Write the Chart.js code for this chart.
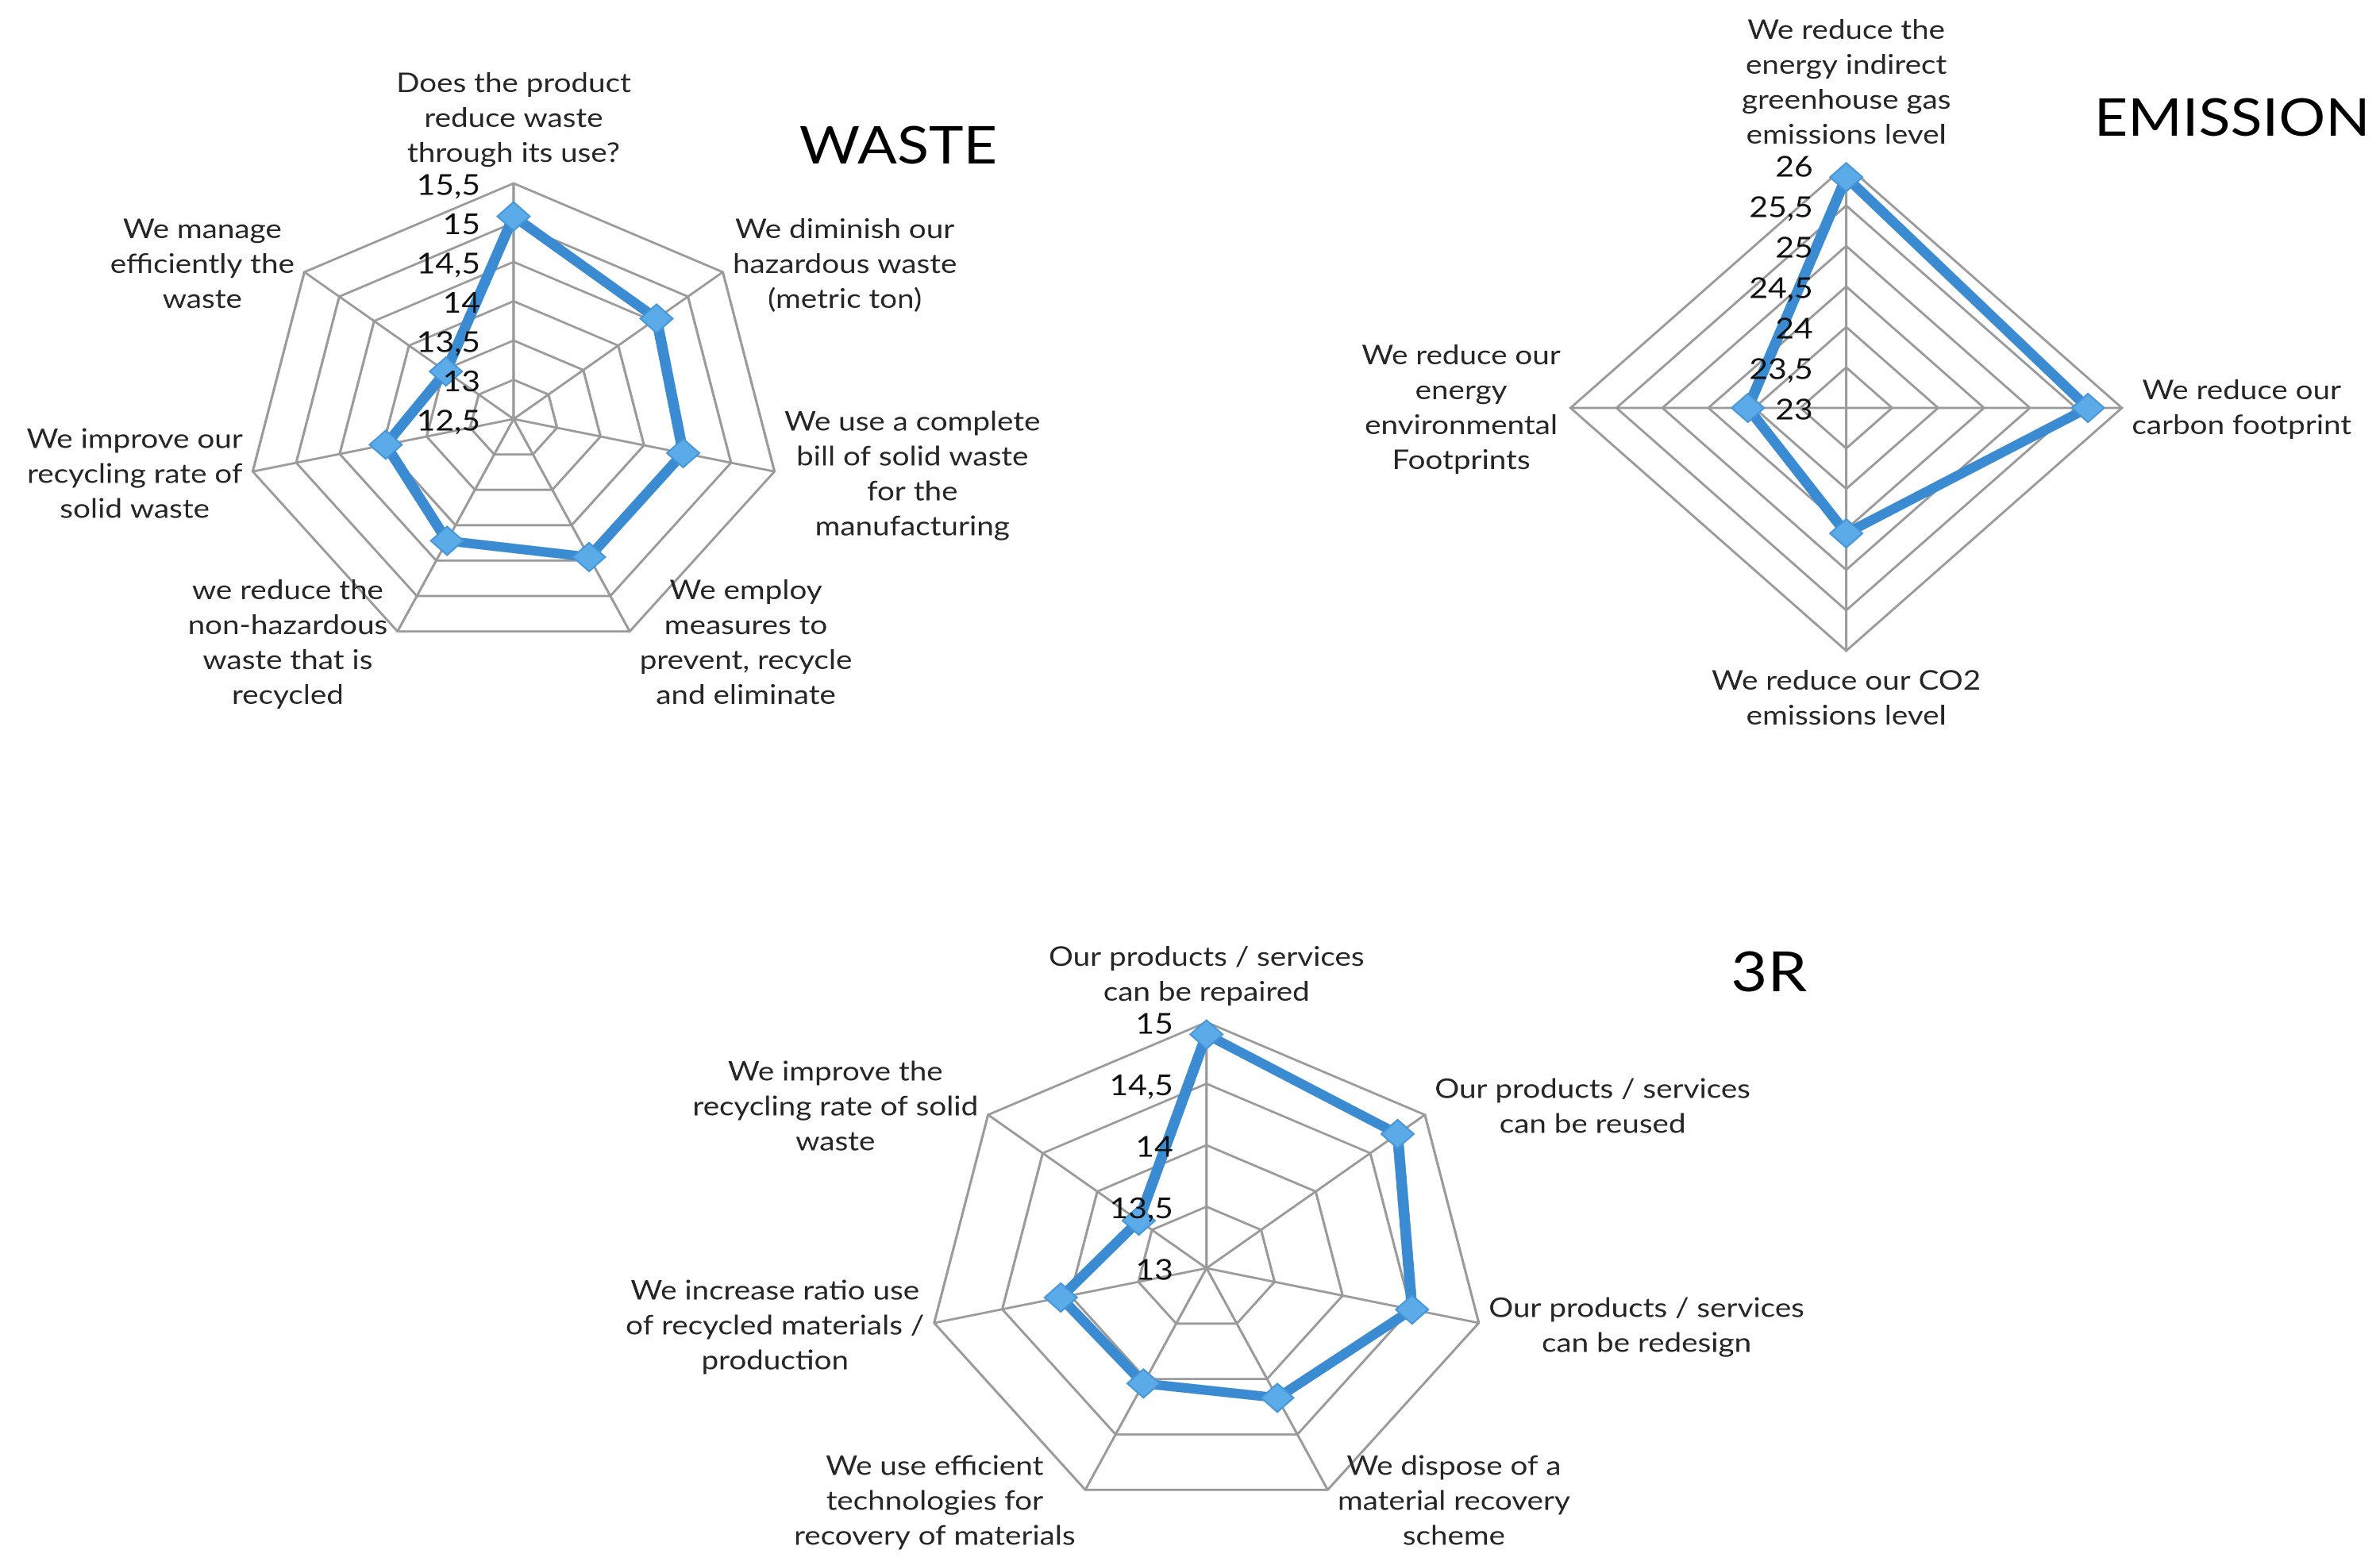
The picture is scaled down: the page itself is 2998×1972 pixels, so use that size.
<!DOCTYPE html>
<html>
<head>
<meta charset="utf-8">
<title>Waste / Emission / 3R radar charts</title>
<script src="https://cdn.jsdelivr.net/npm/chart.js@4.4.1/dist/chart.umd.min.js"></script>
<style>
  html, body { margin: 0; padding: 0; background: #fff; overflow: hidden; }
  body { width: 2998px; height: 1972px; position: relative; }
  /* the source picture is stretched sideways, so the whole stage is too */
  #stage {
    position: absolute; left: 0; top: 0;
    width: 2642px; height: 1972px;
    transform: scaleX(1.135); transform-origin: 0 0;
    font-family: Lato, "Open Sans", sans-serif;
  }
  .box { position: absolute; }
  .title { position: absolute; line-height: 1; color: #000; white-space: nowrap; }
</style>
</head>
<body>
<div id="stage">
  <div class="box" id="wasteBox"><canvas id="wasteChart"></canvas></div>
  <div class="box" id="emissionBox"><canvas id="emissionChart"></canvas></div>
  <div class="box" id="r3Box"><canvas id="r3Chart"></canvas></div>

  <div class="title" style="left:887px; top:149px; font-size:65px;">WASTE</div>
  <div class="title" style="left:2324px; top:114px; font-size:65px;">EMISSION</div>
  <div class="title" style="left:1921px; top:1187px; font-size:70px;">3R</div>
</div>

<script>
/* ======================
   DATA
====================== */
const wasteLabels = [
  ["Does the product", "reduce waste", "through its use?"],
  ["We diminish our", "hazardous waste", "(metric ton)"],
  ["We use a complete", "bill of solid waste", "for the", "manufacturing"],
  ["We employ", "measures to", "prevent, recycle", "and eliminate"],
  ["we reduce the", "non-hazardous", "waste that is", "recycled"],
  ["We improve our", "recycling rate of", "solid waste"],
  ["We manage", "efficiently the", "waste"]
];
const wasteValues = [15.08, 14.55, 14.45, 14.45, 14.22, 13.97, 13.47];
const wasteRange = [12.5, 15.5];

const emissionLabels = [
  ["We reduce the", "energy indirect", "greenhouse gas", "emissions level"],
  ["We reduce our", "carbon footprint"],
  ["We reduce our CO2", "emissions level"],
  ["We reduce our", "energy", "environmental", "Footprints"]
];
const emissionValues = [25.85, 25.63, 24.55, 24.07];
const emissionRange = [23, 26];

const r3Labels = [
  ["Our products / services", "can be repaired"],
  ["Our products / services", "can be reused"],
  ["Our products / services", "can be redesign"],
  ["We dispose of a", "material recovery", "scheme"],
  ["We use efficient", "technologies for", "recovery of materials"],
  ["We increase ratio use", "of recycled materials /", "production"],
  ["We improve the", "recycling rate of solid", "waste"]
];
const r3Values = [14.9, 14.75, 14.51, 14.17, 14.04, 14.07, 13.62];
const r3Range = [13, 15];

const tickStep = 0.5;

/* ======================
   LAYOUT (stage px, before the sideways stretch)
====================== */
const wasteBox = { left: 0, top: 0, width: 1300, height: 960, cx: 570, cy: 528, r: 297 };
const emissionBox = { left: 1440, top: 0, width: 1200, height: 960, cx: 2049, cy: 514, r: 306 };
const r3Box = { left: 600, top: 1000, width: 1500, height: 972, cx: 1339, cy: 1598, r: 310 };

const LINE_H = 44;
const GAP_H = 11;
const GAP_V = 16;

function fmt(v) {
  return String(Math.round(v * 10) / 10).replace(".", ",");
}

/* ======================
   LABELS + TICKS PLUGIN
====================== */
const radarText = {
  id: "radarText",
  afterDraw(chart) {
    const scale = chart.scales.r;
    const ctx = chart.ctx;
    ctx.save();

    // category labels, Excel style: centred lines beside each spoke
    ctx.font = "34px Lato";
    ctx.fillStyle = "#262626";
    ctx.textAlign = "center";
    ctx.textBaseline = "middle";
    chart.data.labels.forEach((lines, i) => {
      const p = scale.getPointPosition(i, scale.drawingArea);
      const a = scale.getIndexAngle(i);
      const dx = Math.sin(a);
      const dy = -Math.cos(a);
      const blockW = Math.max(...lines.map(l => ctx.measureText(l).width));
      const blockH = lines.length * LINE_H;
      let x, top;
      if (Math.abs(dx) < 0.05) {
        x = p.x;
        top = dy < 0 ? p.y - GAP_V - blockH : p.y + GAP_V;
      } else {
        x = dx > 0 ? p.x + GAP_H + blockW / 2 : p.x - GAP_H - blockW / 2;
        top = p.y + dy * 16 - blockH / 2;
      }
      lines.forEach((l, j) => ctx.fillText(l, x, top + LINE_H * (j + 0.5)));
    });

    // value ticks on the first spoke, left of it
    ctx.font = "36px Lato";
    ctx.fillStyle = "#111";
    ctx.textAlign = "right";
    scale.ticks.forEach(t => {
      const p = scale.getPointPositionForValue(0, t.value);
      ctx.fillText(fmt(t.value), p.x - 37, p.y + 3);
    });

    ctx.restore();
  }
};

/* ======================
   CHART FACTORY
====================== */
function makeRadar(id, labels, values, range, box) {
  const holder = document.getElementById(id + "Box");
  holder.style.left = box.left + "px";
  holder.style.top = box.top + "px";

  const canvas = document.getElementById(id + "Chart");
  canvas.width = box.width;
  canvas.height = box.height;

  return new Chart(canvas, {
    type: "radar",
    data: {
      labels,
      datasets: [{
        data: values,
        borderColor: "#3a8bd1",
        borderWidth: 12,
        borderJoinStyle: "round",
        fill: false,
        tension: 0,
        pointStyle: "rectRot",
        pointRadius: 18,
        pointBackgroundColor: "#5babe8",
        pointBorderColor: "#4796d8",
        pointBorderWidth: 2
      }]
    },
    options: {
      responsive: false,
      animation: false,
      devicePixelRatio: 2,
      layout: {
        padding: {
          left: box.cx - box.r - box.left,
          right: box.left + box.width - box.cx - box.r,
          top: box.cy - box.r - box.top,
          bottom: box.top + box.height - box.cy - box.r
        }
      },
      plugins: {
        legend: { display: false },
        tooltip: { enabled: false }
      },
      scales: {
        r: {
          min: range[0],
          max: range[1],
          beginAtZero: false,
          ticks: { display: false, stepSize: tickStep },
          pointLabels: { display: false },
          grid: { color: "#9a9a9a", lineWidth: 2.8, circular: false },
          angleLines: { color: "#9a9a9a", lineWidth: 2.8 }
        }
      }
    },
    plugins: [radarText]
  });
}

/* ======================
   INIT
====================== */
makeRadar("waste", wasteLabels, wasteValues, wasteRange, wasteBox);
makeRadar("emission", emissionLabels, emissionValues, emissionRange, emissionBox);
makeRadar("r3", r3Labels, r3Values, r3Range, r3Box);
</script>
</body>
</html>
